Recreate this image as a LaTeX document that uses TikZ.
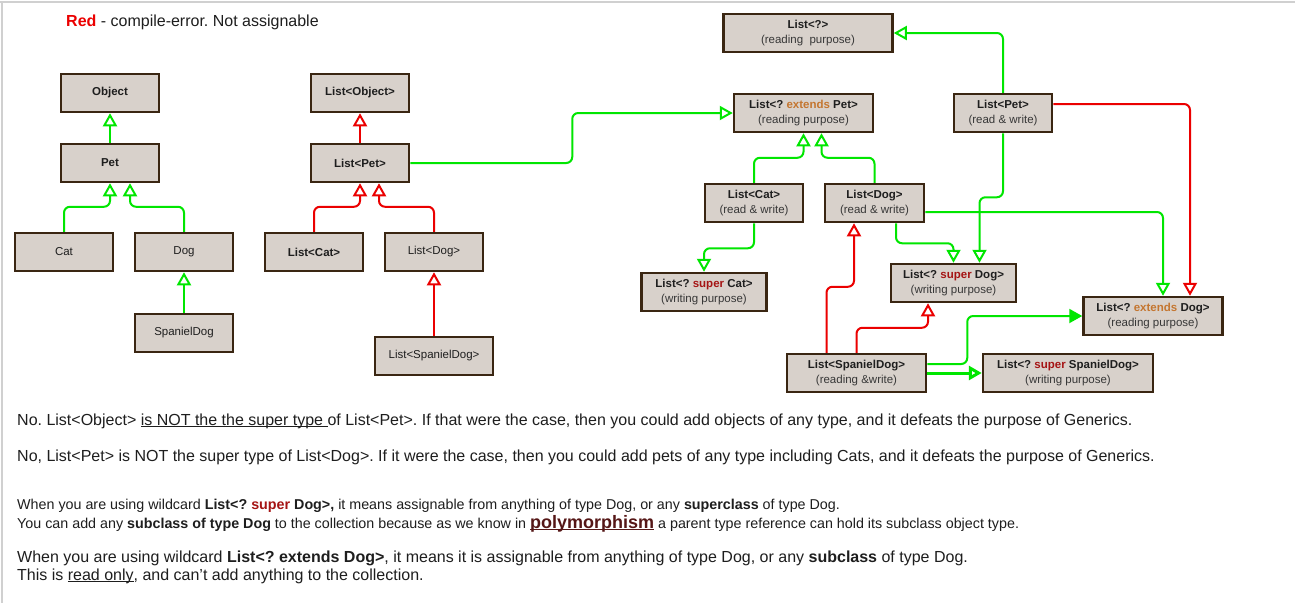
\documentclass[tikz,border=0pt]{standalone}
\usepackage{fontspec}
\setmainfont{Liberation Sans}
\usetikzlibrary{arrows.meta}
\definecolor{boxfill}{RGB}{216,209,203}
\definecolor{boxline}{RGB}{58,38,18}
\definecolor{okgreen}{RGB}{0,230,0}
\definecolor{errred}{RGB}{235,0,0}
\definecolor{extc}{RGB}{196,118,48}
\definecolor{supc}{RGB}{165,20,20}
\definecolor{txt}{RGB}{30,30,30}
\definecolor{subtxt}{RGB}{55,55,55}
\definecolor{framec}{RGB}{208,208,208}
\definecolor{polyc}{RGB}{85,22,22}
\newcommand\myul[1]{\setbox0\hbox{#1}\rlap{\rule[-2.2pt]{\wd0}{0.9pt}}\box0}
\frenchspacing
\begin{document}
\begin{tikzpicture}[x=1pt,y=-1pt,
  box/.style={draw=boxline, fill=boxfill, line width=2.5pt, inner sep=0pt,
    text=txt, font=\fontsize{11.5}{14.5}\selectfont, align=center,
    minimum width=98pt, minimum height=38pt},
  ga/.style={draw=okgreen, line width=2pt, rounded corners=6pt,
    -{Triangle[open, length=13pt, width=14pt]}},
  ra/.style={draw=errred, line width=2pt, rounded corners=6pt,
    -{Triangle[open, length=13pt, width=14pt]}},
  gaf/.style={draw=okgreen, line width=2pt, rounded corners=6pt,
    -{Triangle[fill=okgreen, length=13pt, width=14pt]}},
  para/.style={anchor=base west, text=txt, inner sep=0pt},
]
\useasboundingbox (0,0) rectangle (1295,603);
\fill[white] (0,0) rectangle (1295,603);
\draw[framec, line width=2pt] (0,2) -- (1295,2);
\draw[framec, line width=2pt] (2,2) -- (2,603);

% legend
\node[para, font=\fontsize{16}{18}\selectfont] (legend) at (66,26)
  {\textcolor{errred}{\bfseries Red} - compile-error. Not assignable};

% ---------- left column ----------
\node[box] (obj) at (110,93) {\bfseries Object};
\node[box] (pet) at (110,163) {\bfseries Pet};
\node[box] (cat) at (64,252) {Cat};
\node[box] (dog) at (184,252) {Dog};
\node[box] (span) at (184,333) {SpanielDog};

\draw[ga] (pet.north) -- (obj.south);
\draw[ga] (cat.north) -- ++(0,-25) -| (pet.south);
\draw[ga] (dog.north) -- ++(0,-25) -| ([xshift=20pt]pet.south);
\draw[ga] (span.north) -- (dog.south);

% ---------- middle column ----------
\node[box] (lobj) at (360,93) {\bfseries List<Object>};
\node[box] (lpet) at (360,163) {\bfseries List<Pet>};
\node[box] (lcat) at (314,252) {\bfseries List<Cat>};
\node[box] (ldog) at (434,252) {List<Dog>};
\node[box, minimum width=118pt] (lspan) at (434,356) {List<SpanielDog>};

\draw[ra] (lpet.north) -- (lobj.south);
\draw[ra] (lcat.north) -- ++(0,-25) -| (lpet.south);
\draw[ra] (ldog.north) -- ++(0,-25) -| ([xshift=19pt]lpet.south);
\draw[ra] (lspan.north) -- (ldog.south);

% ---------- right part ----------
\node[box, minimum width=169pt] (lany) at (808,33)
  {{\bfseries List<?>}\\{\color{subtxt}(reading\ \ purpose)}};
\node[box, minimum width=139pt] (extpet) at (803.5,113)
  {{\bfseries List<? \textcolor{extc}{extends} Pet>}\\{\color{subtxt}(reading purpose)}};
\node[box] (lpetrw) at (1003,113)
  {{\bfseries List<Pet>}\\{\color{subtxt}(read \& write)}};
\node[box] (lcatrw) at (754,203)
  {{\bfseries List<Cat>}\\{\color{subtxt}(read \& write)}};
\node[box, minimum width=99pt] (ldogrw) at (874.5,203)
  {{\bfseries List<Dog>}\\{\color{subtxt}(read \& write)}};
\node[box, minimum width=125pt] (supcat) at (704,292)
  {{\bfseries List<? \textcolor{supc}{super} Cat>}\\{\color{subtxt}(writing purpose)}};
\node[box, minimum width=125pt] (supdog) at (953.5,283)
  {{\bfseries List<? \textcolor{supc}{super} Dog>}\\{\color{subtxt}(writing purpose)}};
\node[box, minimum width=139pt] (extdog) at (1153,316)
  {{\bfseries List<? \textcolor{extc}{extends} Dog>}\\{\color{subtxt}(reading purpose)}};
\node[box, minimum width=139pt] (lsprw) at (856.5,373)
  {{\bfseries List<SpanielDog>}\\{\color{subtxt}(reading \&write)}};
\node[box, minimum width=170pt] (supspan) at (1068,373)
  {{\bfseries List<? \textcolor{supc}{super} SpanielDog>}\\{\color{subtxt}(writing purpose)}};

\draw[ga] (lpet.east) -- ++(162,0) |- (extpet.west);
\draw[ga] (lpetrw.north) |- (lany.east);
\draw[ga] (lcatrw.north) -- ++(0,-25) -| (extpet.south);
\draw[ga] (ldogrw.north) -- ++(0,-25) -| ([xshift=18pt]extpet.south);
\draw[ga] (lcatrw.south) -- ++(0,25) -| (supcat.north);
\draw[ga] ([xshift=21.5pt]ldogrw.south) -- ++(0,20) -| (supdog.north);
\draw[ga] (lpetrw.south) -- ++(0,64) -| ([xshift=26pt]supdog.north);
\draw[ga] ([yshift=-9pt]ldogrw.east) -| ([xshift=10pt]extdog.north);
\draw[ra] ([yshift=9pt]lpetrw.east) -| ([xshift=37pt]extdog.north);
\draw[ra] ([xshift=-30pt]lsprw.north) -- ++(0,-66) -| ([xshift=-20.5pt]ldogrw.south);
\draw[ra] (lsprw.north) -- ++(0,-25) -| ([xshift=-25.5pt]supdog.south);
\draw[gaf] ([yshift=9pt]lsprw.east) -- ++(40,0) |- (extdog.west);
\draw[ga, line width=3pt] (lsprw.east) -- (supspan.west);

% ---------- text ----------
\node[para, font=\fontsize{16}{18}\selectfont] (p1) at (17,425)
  {No. List<Object> \myul{is NOT the the super type\ }of List<Pet>. If that were the case, then you could add objects of any type, and it defeats the purpose of Generics.};
\node[para, font=\fontsize{16}{18}\selectfont] (p2) at (17,461)
  {No, List<Pet> is NOT the super type of List<Dog>. If it were the case, then you could add pets of any type including Cats, and it defeats the purpose of Generics.};
\node[para, font=\fontsize{14.3}{16}\selectfont] (p3) at (17,509)
  {When you are using wildcard \textbf{List<? \textcolor{supc}{super} Dog>,} it means assignable from anything of type Dog, or any \textbf{superclass} of type Dog.};
\node[para, font=\fontsize{14.3}{16}\selectfont] (p4) at (17,528)
  {You can add any \textbf{subclass of type Dog} to the collection because as we know in {\fontsize{18}{18}\selectfont\bfseries\color{polyc}\myul{polymorphism}} a parent type reference can hold its subclass object type.};
\node[para, font=\fontsize{16}{18}\selectfont] (p5) at (17,562)
  {When you are using wildcard \textbf{List<? extends Dog>}, it means it is assignable from anything of type Dog, or any \textbf{subclass} of type Dog.};
\node[para, font=\fontsize{16}{18}\selectfont] (p6) at (17,580)
  {This is \myul{read only}, and can't add anything to the collection.};
\end{tikzpicture}
\end{document}
